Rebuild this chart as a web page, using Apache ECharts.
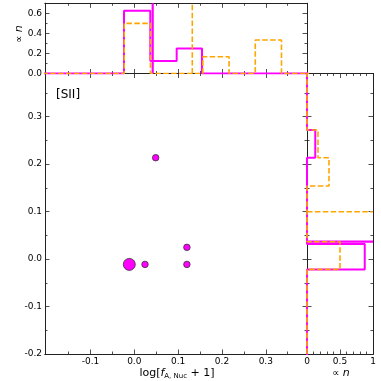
<!DOCTYPE html>
<html>
<head>
<meta charset="utf-8">
<script src="https://cdn.jsdelivr.net/npm/echarts@6/dist/echarts.min.js"></script>
<style>
  html, body { margin: 0; padding: 0; background: #fff; }
  #chart { width: 381px; height: 381px; }
</style>
</head>
<body>
<div id="chart"></div>
<script>
// scatter points (main panel)
var ptX = [0.0488, 0.120, -0.0114, 0.0244, 0.120];
var ptY = [0.2136, 0.0247, -0.0112, -0.0112, -0.0112];
var ptSize = [6.5, 6.5, 12, 6.5, 6.5];

// top histogram (fraction per bin of log f)
var topEdgesMag = [-0.0235, 0.0365, 0.0967, 0.1545];
var topValsMag = [0.625, 0.125, 0.25];
var topEdgesOrg = [-0.023, 0.0368, 0.0966, 0.1564, 0.2162, 0.276, 0.3358];
var topValsOrg = [0.5, 0, 0, 0.1667, 0, 0.3333];

// right histogram (fraction per bin of y)
var rightEdgesMag = [-0.0217, 0.0317, 0.2136, 0.272];
var rightValsMag = [0.875, 0, 0.125];
var rightEdgesOrg = [-0.0217, 0.0366, 0.0966, 0.154, 0.2136, 0.272];
var rightValsOrg = [0.5, 0, 0, 0.3333, 0.1667];

// median markers
var medXMag = 0.042, medXOrg = 0.1323;
var medYMag = 0.0366, medYOrg = 0.0997;

// axis ranges and ticks
var xMin = -0.2037, xMax = 0.394;
var yMin = -0.2, yMax = 0.391;
var xMajor = [-0.1, 0, 0.1, 0.2, 0.3];
var xMinor = [-0.15, -0.05, 0.05, 0.15, 0.25, 0.35];
var yMajor = [-0.2, -0.1, 0, 0.1, 0.2, 0.3];
var yMinor = [-0.15, -0.05, 0.05, 0.15, 0.25, 0.35];
var hMajor = [0, 0.2, 0.4, 0.6];
var hMinor = [0.1, 0.3, 0.5, 0.7];
var nMajor = [0, 0.5, 1];
var nMinor = [0.1, 0.2, 0.3, 0.4, 0.6, 0.7, 0.8, 0.9];

var MAG = '#ff00ff', ORG = '#ffa500', INK = '#222';
var FONT = 'DejaVu Sans';

function fmt1(v) { return (Math.abs(v) < 1e-9 ? 0 : v).toFixed(1); }
function fmtN(v) { return v === 0 ? '0' : (v === 1 ? '1' : '0.5'); }

function axis(grid, pos, min, max, ticks, len, labels, formatter) {
    return {
        type: 'value',
        gridIndex: grid,
        position: pos,
        min: min,
        max: max,
        axisLine: {show: true, onZero: false, lineStyle: {color: INK, width: 1}},
        axisTick: {show: true, inside: true, length: len, customValues: ticks,
            lineStyle: {color: INK, width: 0.8}},
        axisLabel: {show: !!labels, customValues: labels || undefined, formatter: formatter,
            fontFamily: FONT, fontSize: 9, color: '#000', margin: 3},
        splitLine: {show: false}
    };
}

function stepX(edges, vals, lo, hi) {
    var pts = [[lo, 0], [edges[0], 0]];
    for (var i = 0; i < vals.length; i++) {
        pts.push([edges[i], vals[i]], [edges[i + 1], vals[i]]);
    }
    pts.push([edges[edges.length - 1], 0], [hi, 0]);
    return pts;
}

function stepY(edges, vals, lo, hi) {
    return stepX(edges, vals, lo, hi).map(function (p) { return [p[1], p[0]]; });
}

var xAxes = [
    // main
    axis(0, 'bottom', xMin, xMax, xMajor, 4.5, xMajor, fmt1),
    axis(0, 'bottom', xMin, xMax, xMinor, 2.5),
    axis(0, 'top', xMin, xMax, xMajor, 4.5),
    axis(0, 'top', xMin, xMax, xMinor, 2.5),
    // top hist
    axis(1, 'bottom', xMin, xMax, xMajor, 4.5),
    axis(1, 'bottom', xMin, xMax, xMinor, 2.5),
    axis(1, 'top', xMin, xMax, xMajor, 4.5),
    axis(1, 'top', xMin, xMax, xMinor, 2.5),
    // right hist
    axis(2, 'bottom', 0, 1, nMajor, 4.5, nMajor, fmtN),
    axis(2, 'bottom', 0, 1, nMinor, 2.5),
    axis(2, 'top', 0, 1, nMajor, 4.5),
    axis(2, 'top', 0, 1, nMinor, 2.5)
];

var yAxes = [
    axis(0, 'left', yMin, yMax, yMajor, 4.5, yMajor, fmt1),
    axis(0, 'left', yMin, yMax, yMinor, 2.5),
    axis(0, 'right', yMin, yMax, yMajor, 4.5),
    axis(0, 'right', yMin, yMax, yMinor, 2.5),
    axis(1, 'left', 0, 0.7, hMajor, 4.5, hMajor, fmt1),
    axis(1, 'left', 0, 0.7, hMinor, 2.5),
    axis(1, 'right', 0, 0.7, hMajor, 4.5),
    axis(1, 'right', 0, 0.7, hMinor, 2.5),
    axis(2, 'left', yMin, yMax, yMajor, 4.5),
    axis(2, 'left', yMin, yMax, yMinor, 2.5),
    axis(2, 'right', yMin, yMax, yMajor, 4.5),
    axis(2, 'right', yMin, yMax, yMinor, 2.5)
];

function lineSeries(xi, yi, data, color, width, dashed, z) {
    return {
        type: 'line',
        xAxisIndex: xi,
        yAxisIndex: yi,
        data: data,
        symbol: 'none',
        clip: true,
        z: z,
        lineStyle: {color: color, width: width, type: dashed ? [5.5, 2.4] : 'solid'},
        silent: true
    };
}

var scatterData = ptX.map(function (x, i) { return [x, ptY[i], ptSize[i]]; });

var option = {
    animation: false,
    backgroundColor: '#fff',
    grid: [
        {left: 45, top: 73.5, width: 262, height: 280.5},
        {left: 45, top: 3.3, width: 262, height: 70.2},
        {left: 307, top: 73.5, width: 66, height: 280.5}
    ],
    xAxis: xAxes,
    yAxis: yAxes,
    series: [
        {
            type: 'scatter',
            xAxisIndex: 0,
            yAxisIndex: 0,
            data: scatterData,
            symbolSize: function (d) { return d[2]; },
            itemStyle: {color: MAG, borderColor: '#333', borderWidth: 0.8, opacity: 1},
            z: 5
        },
        lineSeries(4, 4, stepX(topEdgesMag, topValsMag, -0.3, 0.5), MAG, 2, false, 2),
        lineSeries(4, 4, [[medXMag, 0], [medXMag, 0.7]], MAG, 2.2, false, 2),
        lineSeries(4, 4, stepX(topEdgesOrg, topValsOrg, -0.3, 0.5), ORG, 1.6, true, 3),
        lineSeries(4, 4, [[medXOrg, 0], [medXOrg, 0.7]], ORG, 1.6, true, 3),
        lineSeries(8, 8, stepY(rightEdgesMag, rightValsMag, -0.3, 0.5), MAG, 2, false, 2),
        lineSeries(8, 8, [[0, medYMag], [1, medYMag]], MAG, 2.2, false, 2),
        lineSeries(8, 8, stepY(rightEdgesOrg, rightValsOrg, -0.3, 0.5), ORG, 1.6, true, 3),
        lineSeries(8, 8, [[0, medYOrg], [1, medYOrg]], ORG, 1.6, true, 3)
    ],
    graphic: [
        {
            type: 'text', left: 56, top: 89,
            style: {text: '[SII]', fontFamily: FONT, fontSize: 12, fill: '#000'}
        },
        {
            type: 'text', x: 177, y: 373,
            style: {
                text: '{n|log[}{i|f}{s|A, Nuc}{n| + 1]}',
                align: 'center', verticalAlign: 'middle',
                rich: {
                    n: {fontFamily: FONT, fontSize: 11, fill: '#000', lineHeight: 14},
                    i: {fontFamily: FONT, fontSize: 11, fontStyle: 'italic', fill: '#000', lineHeight: 14},
                    s: {fontFamily: FONT, fontSize: 7, fill: '#000', lineHeight: 14, verticalAlign: 'bottom', padding: [4, 0, 0, 0]}
                }
            }
        },
        {
            type: 'text', x: 341, y: 373,
            style: {
                text: '{n|\u221d }{i|n}',
                align: 'center', verticalAlign: 'middle',
                rich: {
                    n: {fontFamily: FONT, fontSize: 10, fill: '#000'},
                    i: {fontFamily: FONT, fontSize: 11, fontStyle: 'italic', fill: '#000'}
                }
            }
        },
        {
            type: 'text', x: 19, y: 34, rotation: Math.PI / 2,
            style: {
                text: '{n|\u221d }{i|n}',
                align: 'center', verticalAlign: 'middle',
                rich: {
                    n: {fontFamily: FONT, fontSize: 10, fill: '#000'},
                    i: {fontFamily: FONT, fontSize: 11, fontStyle: 'italic', fill: '#000'}
                }
            }
        }
    ]
};

var chart = echarts.init(document.getElementById('chart'), null, {renderer: 'canvas'});
chart.setOption(option);
</script>
</body>
</html>
